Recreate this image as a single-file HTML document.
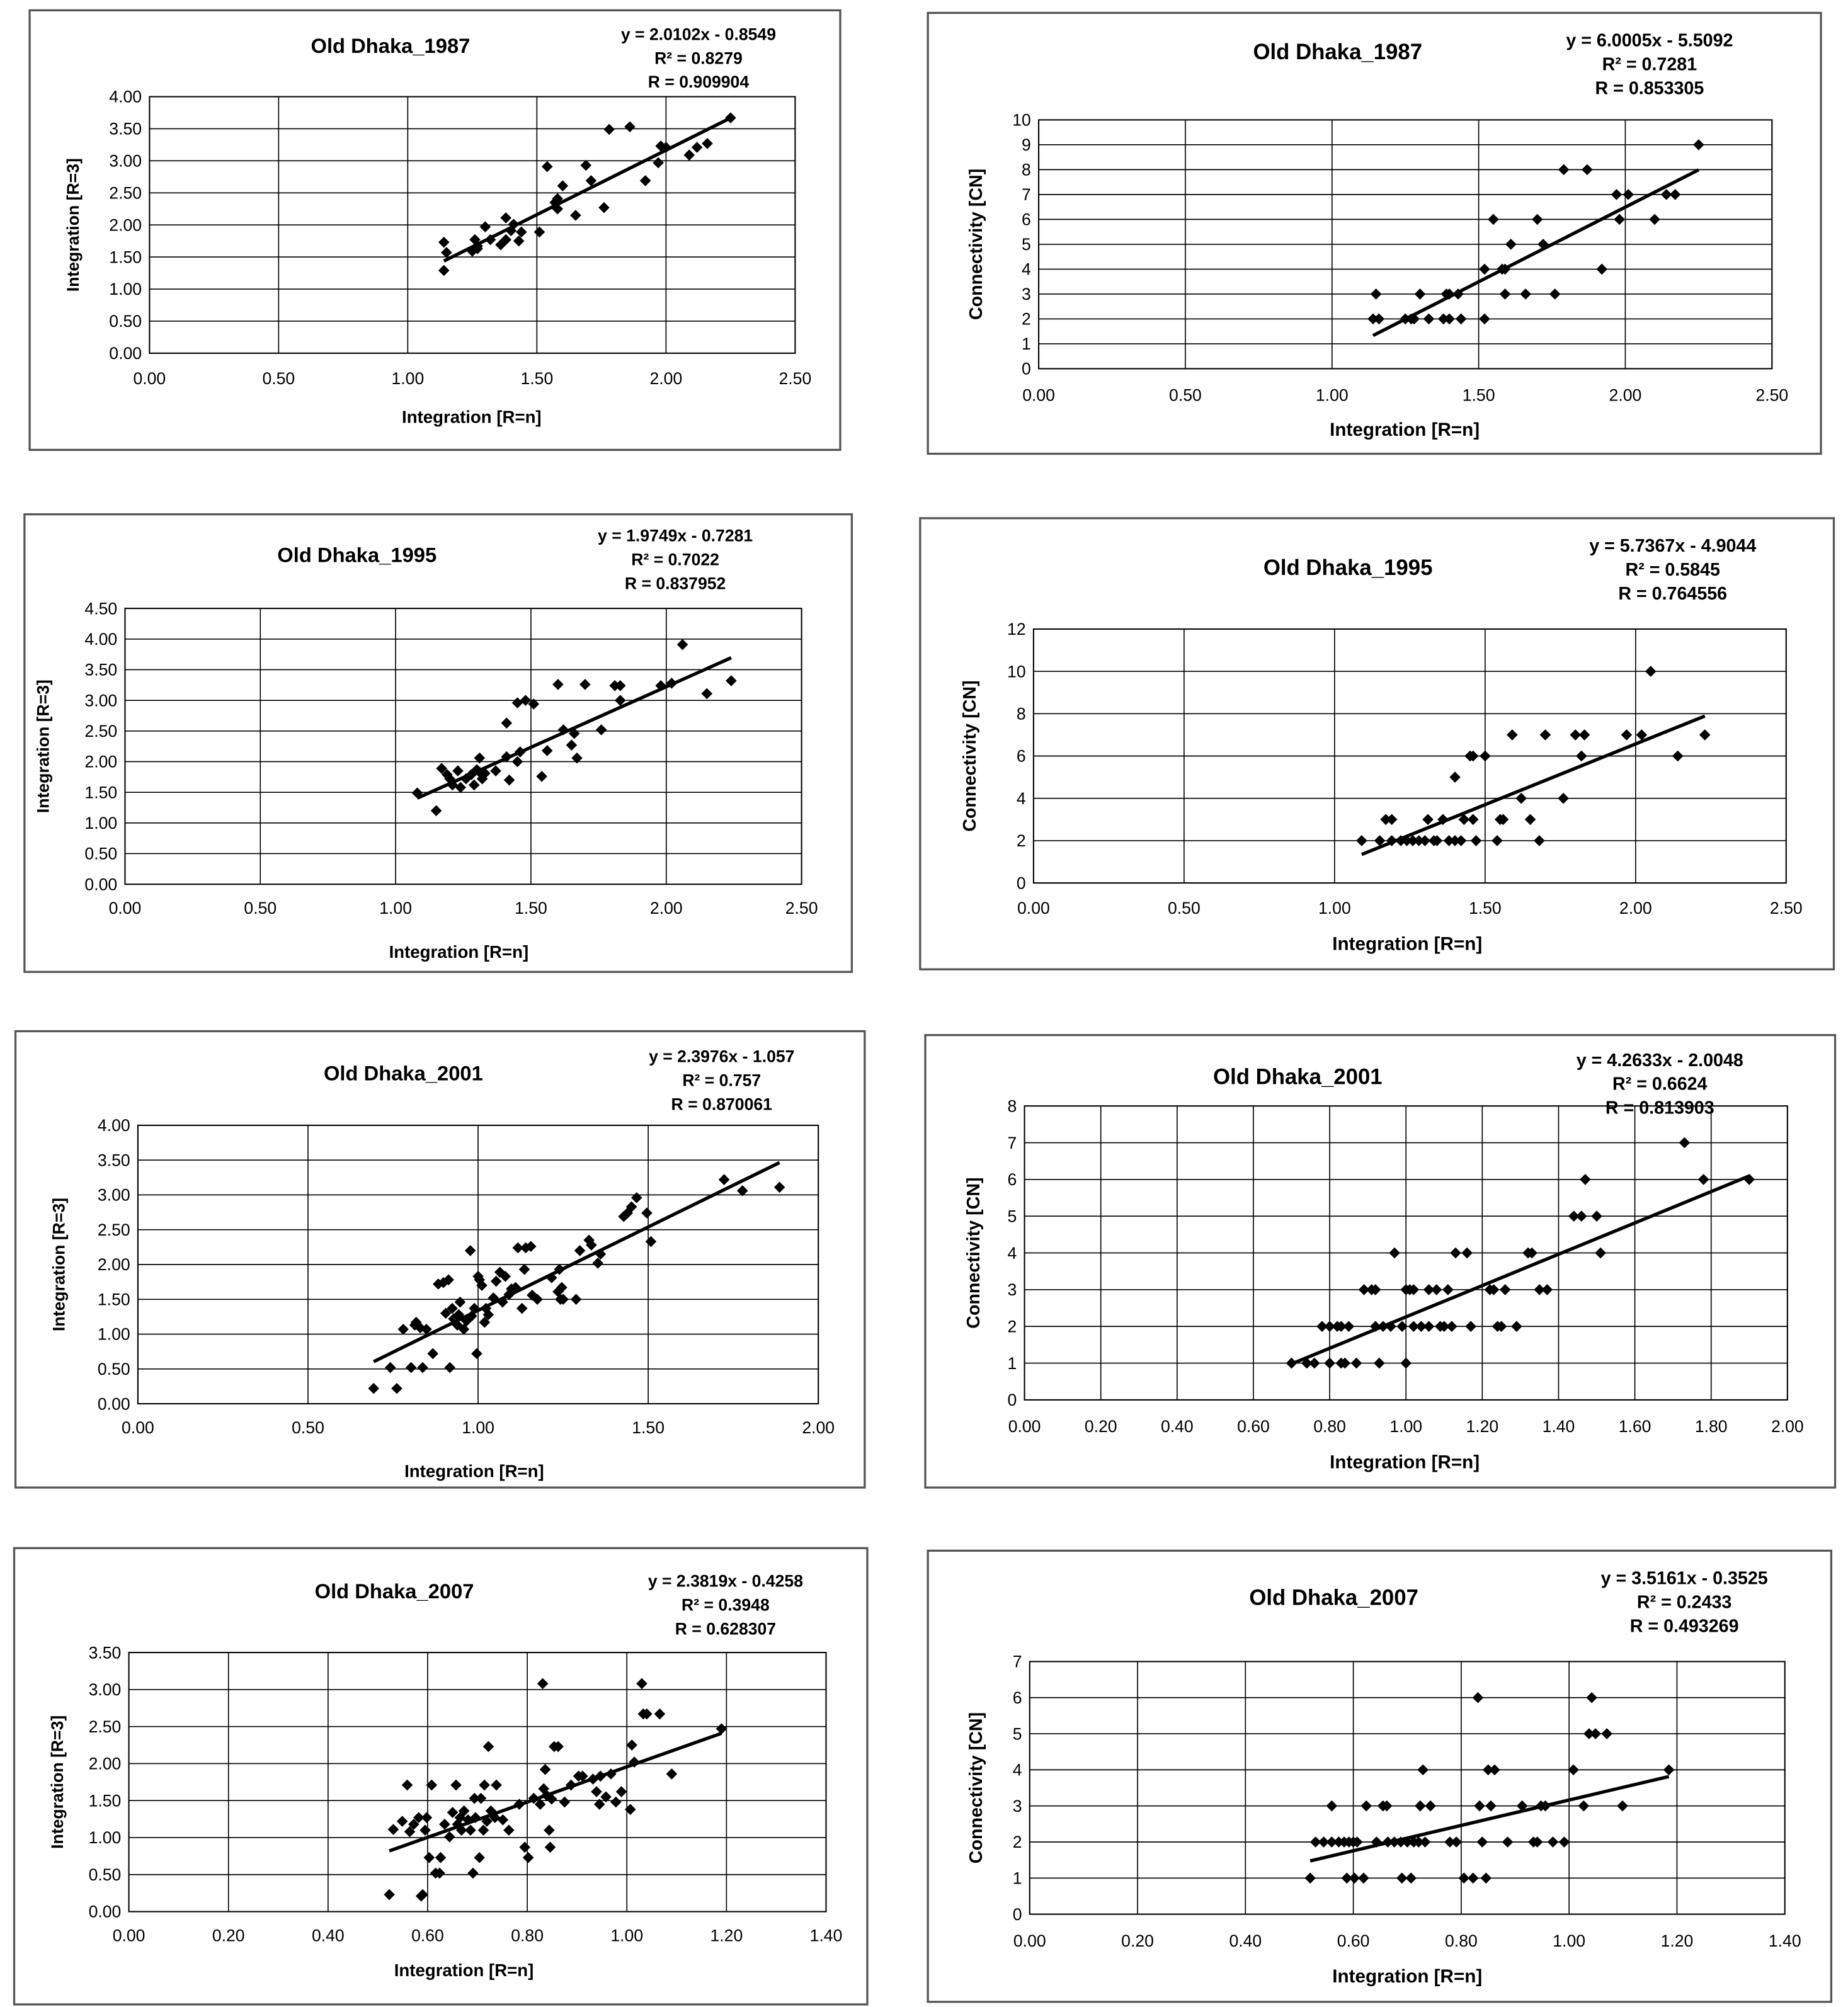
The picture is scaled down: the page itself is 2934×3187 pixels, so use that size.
<!DOCTYPE html>
<html><head><meta charset="utf-8">
<style>
html,body{margin:0;padding:0;background:#fff;}
svg{display:block;}
text{font-family:"Liberation Sans",Arial,sans-serif;fill:#000;}
</style></head>
<body>
<svg id="root" width="2934" height="3187" viewBox="0 0 1434 1557" preserveAspectRatio="none" xmlns="http://www.w3.org/2000/svg"></svg>
<script>
// ---------- DATA ----------
const c1x=[1.14,1.15,1.14,1.26,1.25,1.27,1.27,1.30,1.32,1.36,1.38,1.40,1.38,1.41,1.43,1.44,1.51,1.54,1.57,1.58,1.58,1.60,1.65,1.69,1.71,1.76,1.78,1.86,1.92,1.98,1.97,2.00,2.09,2.12,2.16,2.25];
const c1y=[1.73,1.57,1.29,1.77,1.59,1.63,1.67,1.97,1.77,1.69,2.11,1.91,1.77,2.01,1.75,1.89,1.89,2.91,2.35,2.41,2.25,2.61,2.15,2.93,2.69,2.27,3.49,3.53,2.69,3.23,2.97,3.21,3.09,3.21,3.27,3.67];
const c2x=[1.15,1.14,1.16,1.25,1.27,1.28,1.30,1.33,1.38,1.39,1.40,1.44,1.40,1.43,1.52,1.52,1.55,1.58,1.59,1.61,1.59,1.66,1.70,1.72,1.76,1.79,1.87,1.92,1.97,1.98,2.01,2.10,2.14,2.17,2.25];
const c2y=[3,2,2,2,2,2,3,2,2,3,2,2,3,3,4,2,6,4,3,5,4,3,6,5,3,8,8,4,7,6,7,6,7,7,9];
const c3x=[1.08,1.15,1.17,1.19,1.20,1.21,1.23,1.24,1.26,1.28,1.29,1.31,1.31,1.30,1.32,1.33,1.37,1.41,1.41,1.42,1.45,1.46,1.45,1.48,1.51,1.54,1.56,1.60,1.62,1.65,1.66,1.67,1.70,1.76,1.81,1.83,1.83,1.98,2.02,2.06,2.15,2.24];
const c3y=[1.49,1.20,1.89,1.79,1.72,1.62,1.85,1.58,1.72,1.79,1.62,1.83,2.06,1.87,1.72,1.81,1.85,2.08,2.63,1.70,2.00,2.16,2.96,3.00,2.94,1.76,2.18,3.26,2.52,2.27,2.46,2.06,3.26,2.52,3.24,3.24,3.00,3.24,3.28,3.91,3.11,3.32];
const c4x=[1.09,1.15,1.17,1.19,1.19,1.22,1.24,1.26,1.28,1.30,1.31,1.33,1.34,1.36,1.38,1.40,1.42,1.40,1.43,1.45,1.46,1.47,1.46,1.50,1.54,1.55,1.56,1.59,1.62,1.65,1.68,1.70,1.76,1.80,1.83,1.82,1.97,2.02,2.05,2.14,2.23];
const c4y=[2,2,3,3,2,2,2,2,2,2,3,2,2,3,2,2,2,5,3,6,6,2,3,6,2,3,3,7,4,3,2,7,4,7,7,6,7,7,10,6,7];
const c5x=[0.693,0.742,0.761,0.780,0.803,0.814,0.818,0.830,0.837,0.848,0.867,0.883,0.898,0.913,0.905,0.917,0.924,0.928,0.939,0.943,0.947,0.958,0.966,0.977,0.981,0.989,0.996,1.004,1.000,1.011,1.019,1.023,1.030,1.045,1.053,1.064,1.072,1.080,1.091,1.098,1.110,1.117,1.129,1.136,1.140,1.155,1.159,1.174,1.216,1.235,1.239,1.246,1.242,1.250,1.288,1.299,1.326,1.333,1.352,1.360,1.428,1.439,1.451,1.466,1.496,1.508,1.723,1.777,1.886];
const c5y=[0.22,0.52,0.22,1.07,0.52,1.13,1.17,1.09,0.52,1.07,0.72,1.72,1.74,1.78,1.30,0.52,1.37,1.22,1.13,1.28,1.46,1.07,1.19,2.20,1.26,1.37,0.72,1.78,1.83,1.70,1.17,1.37,1.28,1.52,1.76,1.89,1.46,1.83,1.57,1.65,1.67,2.24,1.37,1.93,2.24,2.26,1.56,1.50,1.81,1.61,1.93,1.67,1.50,1.50,1.50,2.20,2.35,2.28,2.02,2.15,2.69,2.74,2.83,2.96,2.74,2.33,3.22,3.06,3.11];
const c6x=[0.70,0.74,0.76,0.78,0.80,0.82,0.83,0.85,0.80,0.83,0.84,0.87,0.89,0.91,0.92,0.92,0.93,0.94,0.96,0.97,0.99,1.00,1.00,1.01,1.02,1.02,1.04,1.06,1.08,1.06,1.09,1.10,1.11,1.12,1.13,1.16,1.17,1.22,1.23,1.24,1.25,1.26,1.29,1.32,1.33,1.35,1.37,1.44,1.46,1.47,1.50,1.51,1.73,1.78,1.90];
const c6y=[1,1,1,2,2,2,2,2,1,1,1,1,3,3,3,2,1,2,2,4,2,1,3,3,3,2,2,3,3,2,2,2,3,2,4,4,2,3,3,2,2,3,2,4,4,3,3,5,5,6,5,4,7,6,6];
const c7x=[0.523,0.531,0.549,0.559,0.564,0.572,0.582,0.590,0.587,0.595,0.598,0.603,0.608,0.616,0.624,0.626,0.634,0.644,0.650,0.657,0.660,0.665,0.668,0.673,0.681,0.686,0.691,0.694,0.696,0.704,0.707,0.712,0.714,0.719,0.722,0.727,0.735,0.738,0.751,0.763,0.784,0.795,0.802,0.813,0.826,0.831,0.833,0.836,0.839,0.844,0.846,0.849,0.854,0.862,0.875,0.888,0.903,0.911,0.932,0.939,0.945,0.947,0.958,0.968,0.978,0.989,1.007,1.010,1.015,1.030,1.033,1.040,1.066,1.090,1.190];
const c7y=[0.23,1.11,1.22,1.71,1.08,1.18,1.27,0.23,0.21,1.10,1.27,0.73,1.71,0.52,0.52,0.73,1.18,1.01,1.34,1.71,1.18,1.27,1.10,1.36,1.24,1.10,0.52,1.53,1.27,0.73,1.53,1.10,1.71,1.22,2.23,1.36,1.27,1.71,1.24,1.10,1.45,0.87,0.73,1.53,1.45,3.08,1.66,1.92,1.57,1.10,0.87,1.52,2.23,2.23,1.48,1.71,1.83,1.83,1.79,1.62,1.45,1.83,1.55,1.86,1.48,1.62,1.38,2.25,2.02,3.08,2.67,2.67,2.67,1.86,2.47];
const c8x=[0.52,0.53,0.545,0.56,0.56,0.573,0.583,0.588,0.592,0.60,0.602,0.607,0.619,0.624,0.643,0.655,0.662,0.664,0.676,0.688,0.70,0.69,0.707,0.712,0.721,0.724,0.729,0.733,0.743,0.779,0.791,0.805,0.822,0.831,0.834,0.839,0.846,0.85,0.855,0.862,0.886,0.913,0.934,0.941,0.948,0.956,0.97,0.991,1.008,1.027,1.037,1.042,1.049,1.07,1.099,1.185];
const c8y=[1,2,2,3,2,2,2,1,2,2,1,2,1,3,2,3,3,2,2,2,2,1,1,2,2,3,4,2,3,2,2,1,1,6,3,2,1,4,3,4,2,3,2,2,3,3,2,2,4,3,5,6,5,5,3,4];
const slopes=[2.0102,6.0005,1.9749,5.7367,2.3976,4.2633,2.3819,3.5161];
const intercepts=[-0.8549,-5.5092,-0.7281,-4.9044,-1.057,-2.0048,-0.4258,-0.3525];
const titles=["Old Dhaka_1987","Old Dhaka_1987","Old Dhaka_1995","Old Dhaka_1995","Old Dhaka_2001","Old Dhaka_2001","Old Dhaka_2007","Old Dhaka_2007"];
const eqLines=[
 ["y = 2.0102x - 0.8549","R² = 0.8279","R = 0.909904"],
 ["y = 6.0005x - 5.5092","R² = 0.7281","R = 0.853305"],
 ["y = 1.9749x - 0.7281","R² = 0.7022","R = 0.837952"],
 ["y = 5.7367x - 4.9044","R² = 0.5845","R = 0.764556"],
 ["y = 2.3976x - 1.057","R² = 0.757","R = 0.870061"],
 ["y = 4.2633x - 2.0048","R² = 0.6624","R = 0.813903"],
 ["y = 2.3819x - 0.4258","R² = 0.3948","R = 0.628307"],
 ["y = 3.5161x - 0.3525","R² = 0.2433","R = 0.493269"]];
const xs=[c1x,c2x,c3x,c4x,c5x,c6x,c7x,c8x];
const ys=[c1y,c2y,c3y,c4y,c5y,c6y,c7y,c8y];
const xMax=[2.5,2.5,2.5,2.5,2.0,2.0,1.4,1.4];
const xStep=[0.5,0.5,0.5,0.5,0.5,0.2,0.2,0.2];
const yMax=[4,10,4.5,12,4,8,3.5,7];
const yStep=[0.5,1,0.5,2,0.5,1,0.5,1];
const yLabels=["Integration [R=3]","Connectivity [CN]","Integration [R=3]","Connectivity [CN]","Integration [R=3]","Connectivity [CN]","Integration [R=3]","Connectivity [CN]"];

// ---------- LAYOUT ----------
const L=[
 {f:[23,8,629,341],p:[116,75,617,274],t:[303,35],e:[542,26],yl:56,xl:[366,323],tk:293},
 {f:[720,10,693,342],p:[806,93,1375,286],t:[1038,40],e:[1280,31],yl:757,xl:[1090,333],tk:306},
 {f:[19,399,642,355],p:[97,472,622,686],t:[277,430],e:[524,415],yl:33,xl:[356,738],tk:704},
 {f:[714,402,709,350],p:[802,488,1386,685],t:[1046,440],e:[1298,423],yl:752,xl:[1092,732],tk:704},
 {f:[12,800,659,354],p:[107,873,635,1089],t:[313,832],e:[560,819],yl:45,xl:[368,1141],tk:1107},
 {f:[718,803,706,351],p:[795,858,1387,1086],t:[1007,835],e:[1288,822],yl:755,xl:[1090,1134],tk:1106},
 {f:[11,1201,662,354],p:[100,1282,641,1483],t:[306,1234],e:[563,1226],yl:44,xl:[360,1528],tk:1501},
 {f:[720,1203,701,350],p:[799,1289,1385,1485],t:[1035,1239],e:[1307,1224],yl:757,xl:[1092,1533],tk:1505}];

const NS="http://www.w3.org/2000/svg";
const root=document.getElementById('root');
function mk(tag,attrs,parent){const e=document.createElementNS(NS,tag);for(const k in attrs)e.setAttribute(k,attrs[k]);parent.appendChild(e);return e;}

for(let i=0;i<8;i++){
 const l=L[i];
 const g=mk('g',{},root);
 
 
 const fr=mk('rect',{x:l.f[0],y:l.f[1],width:l.f[2],height:l.f[3],fill:'#fff',stroke:'#555','stroke-width':1.6},g);
 
 
 const [px0,py0,px1,py1]=l.p;
 const sx=v=>px0+(v/xMax[i])*(px1-px0);
 const sy=v=>py1-(v/yMax[i])*(py1-py0);
 const right=(i%2===1);
 const nx=Math.round(xMax[i]/xStep[i]), ny=Math.round(yMax[i]/yStep[i]);
 // grid
 for(let k=0;k<=ny;k++){const v=k*yStep[i];
  const ln=mk('line',{x1:px0,x2:px1,y1:sy(v),y2:sy(v),stroke:'#000','stroke-width':0.8},g);
  
  
  const t=mk('text',{x:px0-6,y:sy(v)+4.5,'text-anchor':'end','font-size':13},g);
  t.textContent=right?String(Math.round(v)):v.toFixed(2);
  
  
 }
 for(let k=0;k<=nx;k++){const v=k*xStep[i];
  const ln=mk('line',{x1:sx(v),x2:sx(v),y1:py0,y2:py1,stroke:'#000','stroke-width':0.8},g);
  
  
  const t=mk('text',{x:sx(v),y:l.tk+5,'text-anchor':'middle','font-size':13},g);
  t.textContent=v.toFixed(2);
  
  
 }
 const pa=mk('rect',{x:px0,y:py0,width:px1-px0,height:py1-py0,fill:'none',stroke:'#000','stroke-width':1},g);
 
 
 // trend line
 const xa=xs[i], ya=ys[i];
 const mn=Math.min(...xa), mx=Math.max(...xa);
 const tl=mk('line',{x1:sx(mn),y1:sy(slopes[i]*mn+intercepts[i]),x2:sx(mx),y2:sy(slopes[i]*mx+intercepts[i]),stroke:'#000','stroke-width':2.6},g);
 
 
 // points
 for(let k=0;k<xa.length;k++){
  const cx=sx(xa[k]), cy=sy(ya[k]), r=4.3;
  const p=mk('polygon',{points:`${cx},${cy-r} ${cx+r},${cy} ${cx},${cy+r} ${cx-r},${cy}`,fill:'#000'},g);
  
  
 }
 // texts
 const tt=mk('text',{x:l.t[0],y:l.t[1]+6,'text-anchor':'middle','font-size':right?17:16,'font-weight':'bold'},g);
 tt.textContent=titles[i];
 
 
 for(let k=0;k<3;k++){
  const et=mk('text',{x:l.e[0],y:l.e[1]+5+k*18.5,'text-anchor':'middle','font-size':right?14:13,'font-weight':'bold'},g);
  et.textContent=eqLines[i][k];
  
  
 }
 const xt=mk('text',{x:l.xl[0],y:l.xl[1]+5,'text-anchor':'middle','font-size':right?14.5:13.5,'font-weight':'bold'},g);
 xt.textContent='Integration [R=n]';
 
 
 const cyl=(py0+py1)/2;
 const yt=mk('text',{x:l.yl,y:cyl,'text-anchor':'middle','font-size':right?14:13,'font-weight':'bold',transform:`rotate(-90 ${l.yl} ${cyl}) translate(0 5)`},g);
 yt.textContent=yLabels[i];
 
 
}
</script>
</body></html>
